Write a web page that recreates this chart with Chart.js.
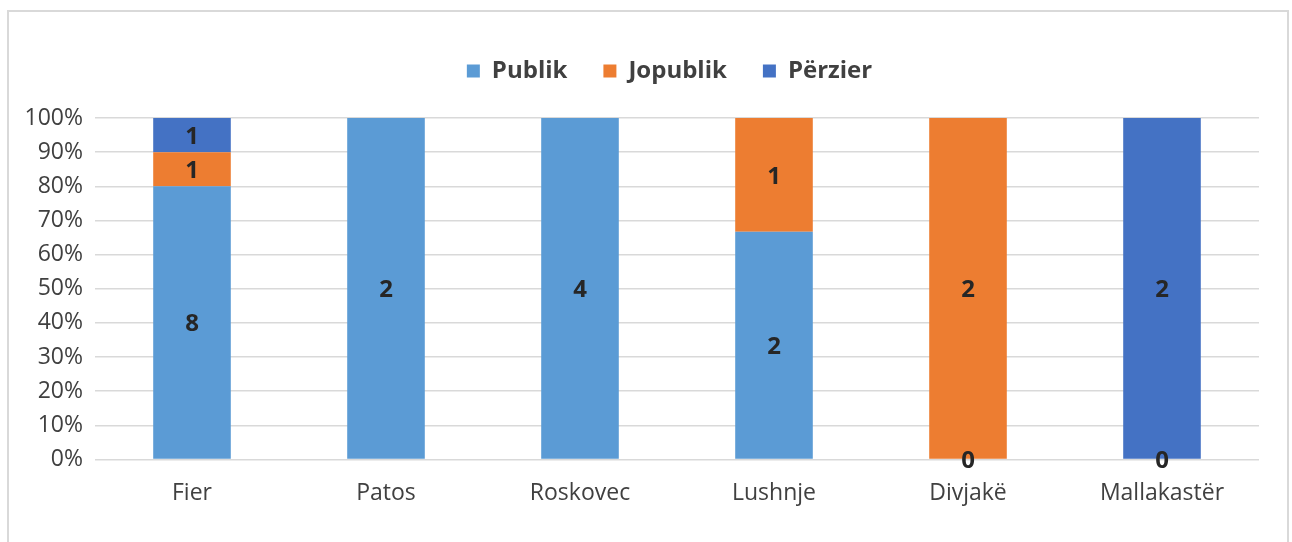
<!DOCTYPE html>
<html>
<head>
<meta charset="utf-8">
<script src="https://cdn.jsdelivr.net/npm/chart.js@4"></script>
<style>
  html, body { margin: 0; padding: 0; background: #fff; overflow: hidden; }
  #frame { position: absolute; left: 7px; top: 10px; width: 1278px; height: 560px; border: 2px solid #d9d9d9; }
  #wrap { position: absolute; left: 0; top: 0; width: 1292px; height: 542px; }
</style>
</head>
<body>
<div id="frame"></div>
<div id="wrap"><canvas id="chart"></canvas></div>
<script>
const categories = ['Fier', 'Patos', 'Roskovec', 'Lushnje', 'Divjakë', 'Mallakastër'];
const publik = [8, 2, 4, 2, 0, 0];
const jopublik = [1, null, null, 1, 2, null];
const perzier = [1, null, null, null, null, 2];
const yTicks = [0, 10, 20, 30, 40, 50, 60, 70, 80, 90, 100];

const totals = categories.map((c, i) => (publik[i] || 0) + (jopublik[i] || 0) + (perzier[i] || 0));
const pct = arr => arr.map((v, i) => v === null ? null : v / totals[i] * 100);

const series = [
  { label: 'Publik', raw: publik, color: '#5B9BD5' },
  { label: 'Jopublik', raw: jopublik, color: '#ED7D31' },
  { label: 'Përzier', raw: perzier, color: '#4472C4' }
];

const FONT = "'Open Sans', 'Noto Sans', sans-serif";

// draw counts in the middle of every segment
const valueLabels = {
  id: 'valueLabels',
  afterDatasetsDraw(chart) {
    const ctx = chart.ctx;
    ctx.save();
    ctx.font = 'bold 24px ' + FONT;
    ctx.fillStyle = '#262626';
    ctx.textAlign = 'center';
    ctx.textBaseline = 'middle';
    chart.data.datasets.forEach((ds, di) => {
      const meta = chart.getDatasetMeta(di);
      meta.data.forEach((bar, i) => {
        const v = series[di].raw[i];
        if (v === null) return;
        ctx.fillText(String(v), bar.x, (bar.y + bar.base) / 2 + 2);
      });
    });
    ctx.restore();
  }
};

// fixed legend height, legend centred over the plot area rather than the canvas
const legendBox = {
  id: 'legendBox',
  beforeInit(chart) {
    const fit = chart.legend.fit;
    chart.legend.fit = function () {
      fit.bind(chart.legend)();
      this.height = 95;
    };
  },
  afterLayout(chart) {
    chart.legend.left = 80;
    chart.legend.right = chart.chartArea.right;
  }
};

new Chart(document.getElementById('chart'), {
  type: 'bar',
  data: {
    labels: categories,
    datasets: series.map(s => ({
      label: s.label,
      data: pct(s.raw),
      backgroundColor: s.color,
      borderWidth: 0,
      barPercentage: 0.4,
      categoryPercentage: 1.0
    }))
  },
  options: {
    responsive: true,
    maintainAspectRatio: false,
    animation: false,
    layout: { padding: { top: 23, right: 33, bottom: 23, left: 0 } },
    scales: {
      x: {
        stacked: true,
        grid: { display: false },
        border: { display: false },
        ticks: { color: '#404040', font: { family: FONT, size: 23 }, padding: 12 }
      },
      y: {
        stacked: true,
        min: 0, max: 100,
        afterFit(scale) { scale.width = 95; },
        afterBuildTicks(scale) { scale.ticks = yTicks.map(v => ({ value: v })); },
        grid: { color: '#d9d9d9', lineWidth: 1.5, drawTicks: false },
        border: { display: false },
        ticks: {
          color: '#404040',
          font: { family: FONT, size: 23 },
          padding: 12,
          callback: v => v + '%'
        }
      }
    },
    plugins: {
      legend: {
        position: 'top',
        labels: {
          color: '#404040',
          font: { family: FONT, size: 24, weight: 'bold' },
          boxWidth: 13,
          boxHeight: 13,
          padding: 36
        }
      },
      tooltip: { enabled: false }
    }
  },
  plugins: [valueLabels, legendBox]
});
</script>
</body>
</html>
